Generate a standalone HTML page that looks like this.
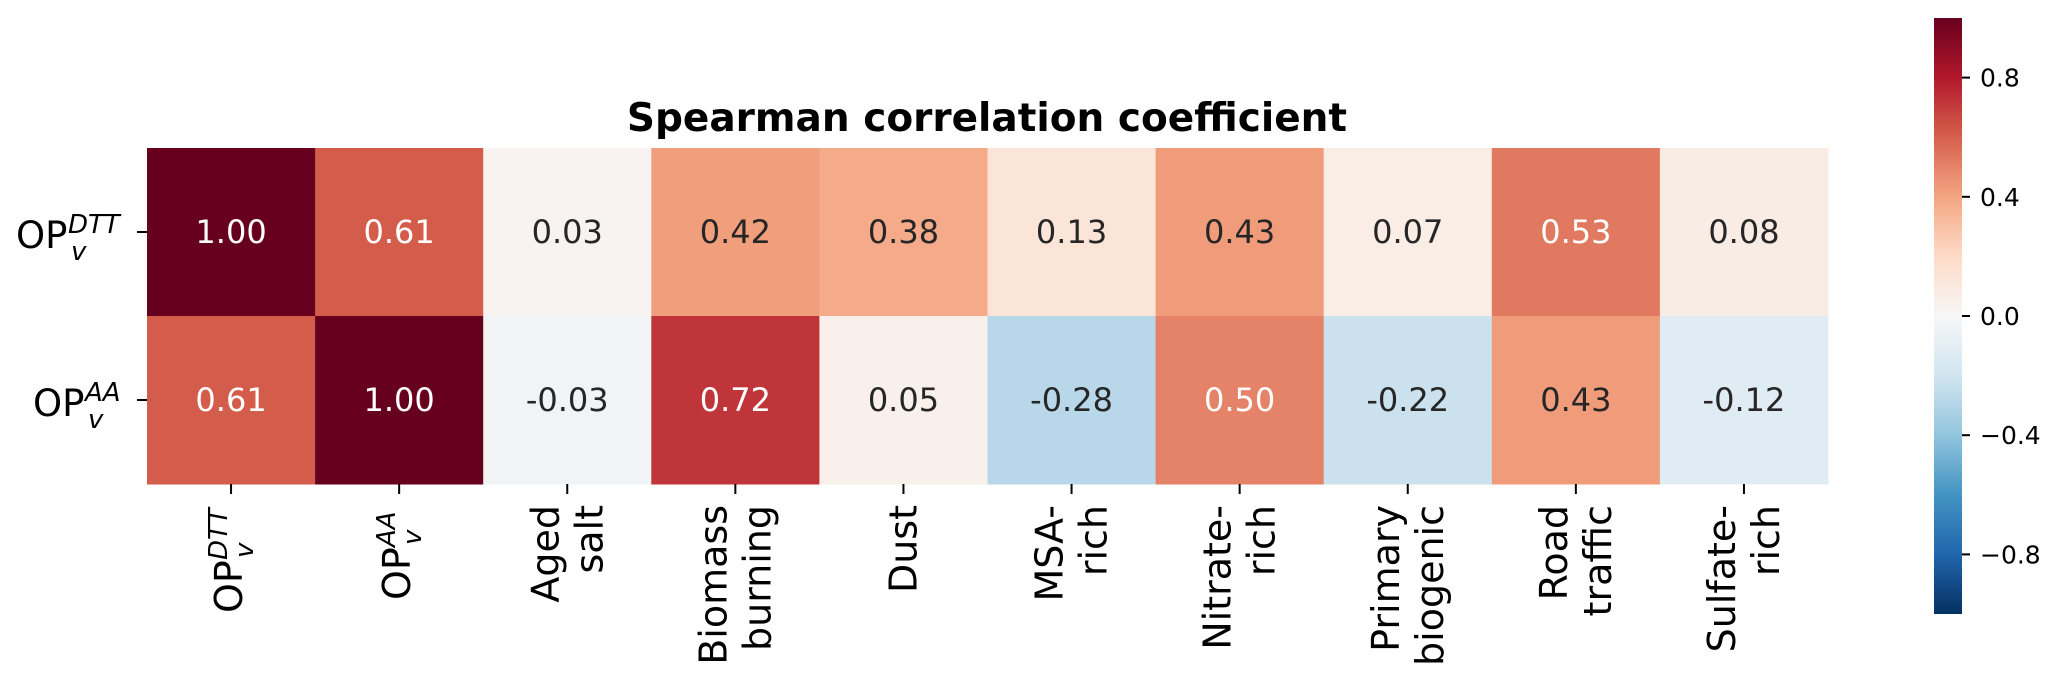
<!DOCTYPE html>
<html><head><meta charset="utf-8"><style>
html,body{margin:0;padding:0;background:#fff;}
svg{display:block;font-family:"DejaVu Sans","Liberation Sans",sans-serif;}
</style></head><body>
<svg id="chart" width="2067" height="685" viewBox="0 0 2067 685" xmlns="http://www.w3.org/2000/svg">
<defs><linearGradient id="cbgrad" x1="0" y1="1" x2="0" y2="0"></linearGradient></defs>
<text x="987" y="131" text-anchor="middle" font-weight="bold" font-size="39">Spearman correlation coefficient</text>
<g id="cells"></g><g id="xlabels"></g><g id="ylabels"></g><g id="cbar"></g>
</svg>
<script>
const rowLabels = [["OP","DTT"],["OP","AA"]];
const colLabels = [["OP","DTT"],["OP","AA"],["Aged","salt"],["Biomass","burning"],["Dust"],["MSA-","rich"],["Nitrate-","rich"],["Primary","biogenic"],["Road","traffic"],["Sulfate-","rich"]];
const row0 = [1.00,0.61,0.03,0.42,0.38,0.13,0.43,0.07,0.53,0.08];
const row1 = [0.61,1.00,-0.03,0.72,0.05,-0.28,0.50,-0.22,0.43,-0.12];
const cbTicks = [0.8,0.4,0.0,-0.4,-0.8];
const values = [row0,row1];

const NS="http://www.w3.org/2000/svg";
const X0=147,X1=1828,Y0=148,Y1=484;
const cw=(X1-X0)/colLabels.length, rh=(Y1-Y0)/values.length;
const CBX=1934,CBW=28,CBT=18,CBB=614,VMIN=-1,VMAX=1;
function cbY(v){return CBB-(v-VMIN)/(VMAX-VMIN)*(CBB-CBT);}
const stops=["#053061","#2166ac","#4393c3","#92c5de","#d1e5f0","#f7f7f7","#fddbc7","#f4a582","#d6604d","#b2182b","#67001f"];
function hex(h){return [1,3,5].map(i=>parseInt(h.substr(i,2),16));}
function cmap(v){let t=(v-VMIN)/(VMAX-VMIN);t=Math.max(0,Math.min(1,t));const p=t*10,i=Math.min(9,Math.floor(p)),f=p-i;const a=hex(stops[i]),b=hex(stops[i+1]);return a.map((c,k)=>Math.round(c+(b[k]-c)*f));}
function lin(c){c/=255;return c<=0.03928?c/12.92:Math.pow((c+0.055)/1.055,2.4);}
function mk(tag,attrs,parent){const e=document.createElementNS(NS,tag);for(const k in attrs)e.setAttribute(k,attrs[k]);parent.appendChild(e);return e;}
const cells=document.getElementById('cells');
values.forEach((row,r)=>row.forEach((v,c)=>{
  const col=cmap(v);
  const rect=mk('rect',{x:X0+c*cw,y:Y0+r*rh,width:cw+0.5,height:rh+0.5,fill:`rgb(${col})`},cells);
  
  
  const lum=0.2126*lin(col[0])+0.7152*lin(col[1])+0.0722*lin(col[2]);
  const t=mk('text',{x:X0+(c+0.5)*cw,y:Y0+(r+0.5)*rh+11,'text-anchor':'middle','font-size':32,fill:lum>0.408?'#262626':'#ffffff'},cells);
  t.textContent=v.toFixed(2);
  
  
}));
const FS=38, SFS=26;
const xl=document.getElementById('xlabels');
colLabels.forEach((lab,c)=>{
  const cx=X0+(c+0.5)*cw;
  mk('line',{x1:cx,y1:Y1,x2:cx,y2:Y1+10,stroke:'#000','stroke-width':2},xl);
  const g=mk('g',{transform:`translate(${cx},0) rotate(-90)`},xl);
  
  
  if(lab[1]==="DTT"||lab[1]==="AA"){
    const start=lab[1]==="DTT"?613:600;
    const op=mk('text',{x:-start,y:11,'font-size':FS},g);
    op.textContent=lab[0];
    const s=mk('text',{x:-start+53,y:-4,'font-size':SFS,'font-style':'italic'},g);
    s.textContent=lab[1];
    const v=mk('text',{x:-start+55,y:22,'font-size':SFS,'font-style':'italic'},g);
    v.textContent='v';
  } else {
    lab.forEach((line,i)=>{
      const off=(i-(lab.length-1)/2)*44+13;
      const t=mk('text',{x:-505,y:off,'text-anchor':'end','font-size':FS},g);
      t.textContent=line;
    });
  }
});
const yl=document.getElementById('ylabels');
rowLabels.forEach((lab,r)=>{
  const cy=Y0+(r+0.5)*rh;
  mk('line',{x1:X0-10,y1:cy,x2:X0,y2:cy,stroke:'#000','stroke-width':2},yl);
  const g=mk('g',{},yl);
  
  
  const sx=lab[1]==="DTT"?16:33;
  const t=mk('text',{x:sx,y:cy+16,'font-size':37},g);
  t.textContent=lab[0];
  const s=mk('text',{x:sx+52,y:cy+1,'font-size':SFS,'font-style':'italic'},g);
  s.textContent=lab[1];
  const v=mk('text',{x:sx+55,y:cy+28,'font-size':SFS,'font-style':'italic'},g);
  v.textContent='v';
});
const grad=document.getElementById('cbgrad');
for(let i=0;i<=20;i++){const v=VMIN+(VMAX-VMIN)*i/20;mk('stop',{offset:(i/20),'stop-color':`rgb(${cmap(v)})`},grad);}
const cb=document.getElementById('cbar');
const cbr=mk('rect',{x:CBX,y:CBT,width:CBW,height:CBB-CBT,fill:'url(#cbgrad)'},cb);


cbTicks.forEach(v=>{
  const y=cbY(v);
  mk('line',{x1:CBX+CBW,y1:y,x2:CBX+CBW+8,y2:y,stroke:'#000','stroke-width':2},cb);
  const t=mk('text',{x:CBX+CBW+18,y:y+9,'font-size':25},cb);
  t.textContent=(v<0?'\u2212':'')+Math.abs(v).toFixed(1);
  
  
});
</script>
</body></html>
